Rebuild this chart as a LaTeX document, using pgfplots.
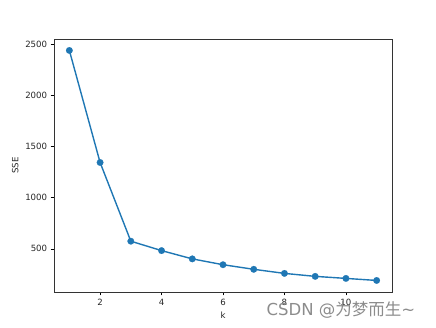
\documentclass[border=0pt]{standalone}
\usepackage{pgfplots}
\pgfplotsset{compat=1.18}
\usepackage{fontspec}
\setmainfont{DejaVu Sans}
\newfontfamily\cjk{Noto Sans CJK SC}
\definecolor{mplblue}{HTML}{1F77B4}
\begin{document}
\begin{tikzpicture}[x=1pt,y=1pt]
\useasboundingbox (0,0) rectangle (436,327);
\begin{axis}[
  at={(54pt,35pt)}, anchor=south west,
  scale only axis, width=338pt, height=253pt,
  xmin=0.5, xmax=11.5, ymin=78, ymax=2553,
  xtick={2,4,6,8,10}, ytick={500,1000,1500,2000,2500},
  tick align=outside, major tick length=3.3pt,
  tick style={black, line width=0.6pt},
  xtick pos=bottom, ytick pos=left,
  axis line style={line width=0.7pt, black!80},
  /pgf/number format/assume math mode=true,
  /pgf/number format/1000 sep={},
  ticklabel style={font=\fontsize{8.6}{10}\selectfont, text=black!85},
  xlabel={k}, ylabel={SSE},
  label style={font=\fontsize{8.6}{10}\selectfont, text=black!85},
  xlabel style={at={(axis description cs:0.5,-0.092)}, anchor=center},
  ylabel style={at={(axis description cs:-0.115,0.5)}, anchor=center, rotate=0},
]
\addplot[mplblue, line width=1.4pt, mark=*, mark size=3.3pt, mark options={solid, fill=mplblue, draw=mplblue, line width=0.2pt}]
coordinates {(1,2441) (2,1345) (3,575) (4,483) (5,402) (6,345) (7,300) (8,260) (9,231) (10,211) (11,191)};
\end{axis}
\node[anchor=center, text=black!45, font=\fontsize{16.5}{18}\selectfont] at (341,17) {CSDN @\cjk 为梦而生\rmfamily \textasciitilde};
\end{tikzpicture}
\end{document}
